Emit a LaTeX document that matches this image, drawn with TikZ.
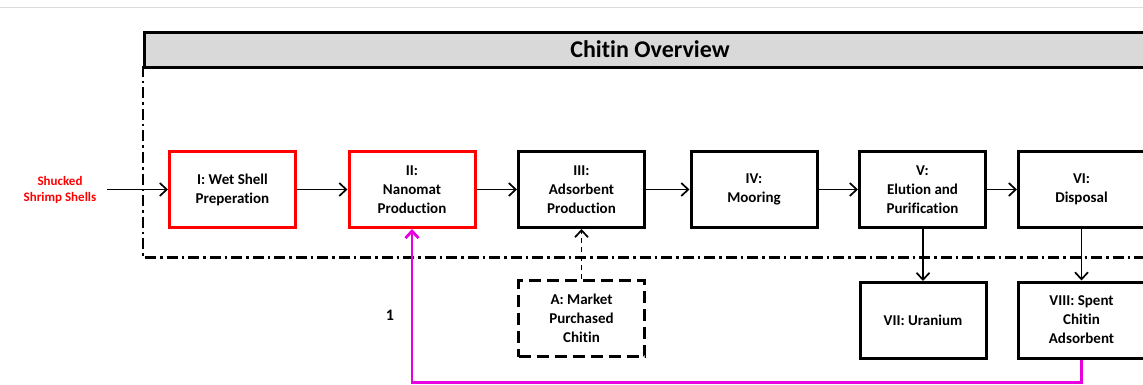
\documentclass[tikz,border=0pt]{standalone}
\usepackage{fontspec}
\setmainfont{Carlito}[Ligatures={NoCommon}]
\usetikzlibrary{arrows.meta}
\definecolor{boxred}{RGB}{255,0,0}
\definecolor{loopmag}{RGB}{232,0,224}
\definecolor{titlegray}{RGB}{217,217,217}
\tikzset{
  stepbox/.style={draw=black, line width=3pt, minimum width=126pt, minimum height=76pt, align=center, inner sep=2pt,
    font=\fontsize{15}{19}\selectfont\bfseries, fill=white},
  redbox/.style={stepbox, draw=boxred},
  dashbox/.style={stepbox, dash pattern=on 12pt off 6pt},
  flow/.style={line width=1.7pt, -{Straight Barb[length=7pt,width=13pt]}},
}
\begin{document}
\begin{tikzpicture}[x=1pt,y=-1pt]
\clip (0,0) rectangle (1143,385);
\fill[white] (0,0) rectangle (1143,385);
\draw[line width=1pt, color={rgb,255:red,220;green,220;blue,220}] (0,8) -- (1143,8);
% frame
\draw[line width=2.2pt, dash pattern=on 11pt off 4pt on 2.5pt off 4pt] (143,66) -- (143,257.5) -- (1160,257.5);
\node[draw=black, fill=titlegray, line width=3.2pt, minimum width=1030pt, minimum height=35pt, anchor=north west, inner sep=0pt] (title) at (143,31) {};
\node[font=\fontsize{24}{28}\selectfont\bfseries] (titletext) at (650,49) {Chitin Overview};
% boxes
\node[redbox] (I) at (232.5,189.5) {I: Wet Shell\\Preperation};
\node[redbox] (II) at (412,189.5) {II:\\Nanomat\\Production};
\node[stepbox] (III) at (581.5,189.5) {III:\\Adsorbent\\Production};
\node[stepbox] (IV) at (754,189.5) {IV:\\Mooring};
\node[stepbox] (V) at (922.5,189.5) {V:\\Elution and\\Purification};
\node[stepbox] (VI) at (1081.5,189.5) {VI:\\Disposal};
\node[dashbox] (A) at (581.5,318.5) {A: Market\\Purchased\\Chitin};
\node[stepbox] (VII) at (923,320.5) {VII: Uranium};
\node[stepbox] (VIII) at (1081.5,320) {VIII: Spent\\Chitin\\Adsorbent};
% source
\node[text=boxred, align=center, font=\fontsize{13}{16}\selectfont\bfseries] (src) at (60,190) {Shucked\\Shrimp Shells};
\coordinate (srcend) at (107,189.5);
\draw[flow] (srcend) -- (I.west);
\draw[flow] (I) -- (II);
\draw[flow] (II) -- (III);
\draw[flow] (III) -- (IV);
\draw[flow] (IV) -- (V);
\draw[flow] (V) -- (VI);
\draw[flow, dash pattern=on 5pt off 4pt] (A.north) -- (III.south);
\draw[flow] (V.south -| VII.north) -- (VII.north);
\draw[flow] (VI.south) -- (VIII.north);
% loop
\coordinate (lb) at (1081.5,382.5);
\coordinate (la) at (412,382.5);
\draw[loopmag, line width=2.8pt, -{Straight Barb[length=7pt,width=13pt]}] (VIII.south) -- (lb) -- (la) -- (II.south);
\node[font=\fontsize{16}{19}\selectfont\bfseries] (one) at (390,315) {1};
\end{tikzpicture}
\end{document}
